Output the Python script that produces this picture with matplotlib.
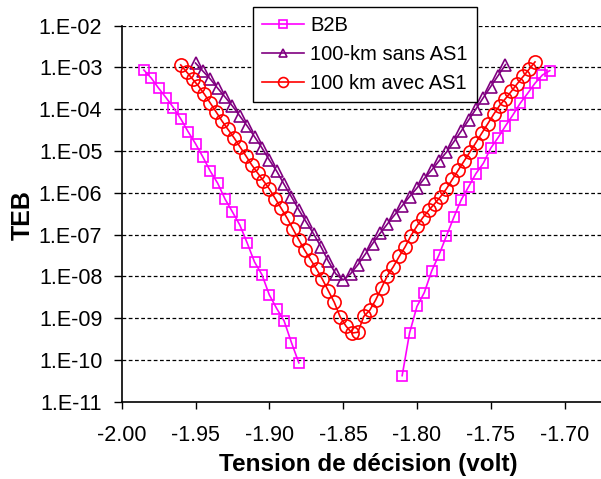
import matplotlib
matplotlib.use("Agg")
import matplotlib.pyplot as plt
import numpy as np

plt.rcParams["font.family"] = ["Liberation Sans", "DejaVu Sans"]

# B2B: two separate branches (no line across the gap)
b2b_left_v = [-1.985, -1.980, -1.975, -1.970, -1.965, -1.960, -1.955, -1.950,
              -1.945, -1.940, -1.935, -1.930, -1.925, -1.920, -1.915, -1.910,
              -1.905, -1.900, -1.895, -1.890, -1.885, -1.880]
b2b_left_teb = [8.7e-4, 5.6e-4, 3.2e-4, 1.9e-4, 1.1e-4, 5.9e-5, 2.9e-5, 1.5e-5,
                7.2e-6, 3.3e-6, 1.7e-6, 7.1e-7, 3.5e-7, 1.7e-7, 6.3e-8, 2.2e-8,
                1.1e-8, 3.6e-9, 1.7e-9, 8.6e-10, 2.6e-10, 8.5e-11]
b2b_right_v = [-1.810, -1.805, -1.800, -1.795, -1.790, -1.785, -1.780, -1.775,
               -1.770, -1.765, -1.760, -1.755, -1.750, -1.745, -1.740, -1.735,
               -1.730, -1.725, -1.720, -1.715, -1.710]
b2b_right_teb = [4.2e-11, 4.4e-10, 1.9e-9, 4.1e-9, 1.35e-8, 3.3e-8, 9.3e-8, 2.6e-7,
                 6.8e-7, 1.4e-6, 2.9e-6, 5.1e-6, 1.17e-5, 2.1e-5, 4.0e-5, 7.3e-5,
                 1.4e-4, 2.4e-4, 4.2e-4, 6.6e-4, 8.4e-4]

# 100-km sans AS1, -1.95 .. -1.74 by 5 mV
sans_v = [round(-1.95 + 0.005 * i, 3) for i in range(43)]
sans_teb = [1.28e-3, 8.2e-4, 5.3e-4, 3.2e-4, 1.97e-4, 1.2e-4, 6.9e-5, 4.0e-5,
            2.2e-5, 1.19e-5, 6.1e-6, 3.3e-6, 1.6e-6, 8.0e-7, 3.9e-7, 2.0e-7,
            1.04e-7, 5.1e-8, 2.3e-8, 1.15e-8, 8.2e-9,
            1.15e-8, 1.9e-8, 3.4e-8, 6.1e-8, 1.07e-7, 1.8e-7, 3.0e-7, 4.9e-7,
            8.1e-7, 1.3e-6, 2.2e-6, 3.5e-6, 5.8e-6, 9.4e-6, 1.66e-5, 3.0e-5,
            5.5e-5, 1.02e-4, 1.9e-4, 3.5e-4, 6.4e-4, 1.17e-3]

# 100 km avec AS1, -1.96 .. -1.72 by 4 mV
avec_v = [round(-1.96 + 0.004 * i, 3) for i in range(61)]
avec_teb = [1.15e-3, 7.8e-4, 5.3e-4, 3.6e-4, 2.3e-4, 1.41e-4, 8.6e-5, 5.2e-5,
            3.3e-5, 2.1e-5, 1.28e-5, 7.8e-6, 4.7e-6, 3.0e-6, 1.94e-6, 1.24e-6,
            7.3e-7, 4.3e-7, 2.5e-7, 1.37e-7, 7.5e-8, 4.2e-8, 2.5e-8, 1.49e-8,
            8.5e-9, 4.5e-9, 2.4e-9, 1.07e-9, 6.4e-10, 4.4e-10,
            4.6e-10, 1.1e-9, 1.54e-9, 2.7e-9, 5.3e-9, 1.04e-8, 1.7e-8, 3.0e-8,
            5.1e-8, 9.5e-8, 1.6e-7, 2.55e-7, 3.8e-7, 5.5e-7, 8.1e-7, 1.25e-6,
            2.1e-6, 3.5e-6, 5.8e-6, 9.6e-6, 1.6e-5, 2.7e-5, 4.5e-5, 7.6e-5,
            1.23e-4, 1.8e-4, 2.7e-4, 4.1e-4, 6.1e-4, 9.1e-4, 1.36e-3]

labels = ["B2B", "100-km sans AS1", "100 km avec AS1"]
x_ticks = [-2.00, -1.95, -1.90, -1.85, -1.80, -1.75, -1.70]
y_ticks = [1e-2, 1e-3, 1e-4, 1e-5, 1e-6, 1e-7, 1e-8, 1e-9, 1e-10, 1e-11]


def sci_label(value):
    return "1.E{:03d}".format(int(round(np.log10(value))))


fig = plt.figure(figsize=(6.01, 4.79), dpi=100)
ax = fig.add_axes([0.2025, 0.1614, 0.7975, 0.7849])

magenta = "#FF00FF"
purple = "#800080"
red = "#FF0000"

ax.plot(b2b_left_v, b2b_left_teb, color=magenta, lw=1.2, marker="s", ms=7.5,
        mfc="none", mec=magenta, mew=1.2, label=labels[0], zorder=3)
ax.plot(b2b_right_v, b2b_right_teb, color=magenta, lw=1.2, marker="s", ms=7.5,
        mfc="none", mec=magenta, mew=1.2, zorder=3)
ax.plot(sans_v, sans_teb, color=purple, lw=1.2, marker="^", ms=8.5,
        mfc="none", mec=purple, mew=1.2, label=labels[1], zorder=3)
ax.plot(avec_v, avec_teb, color=red, lw=1.2, marker="o", ms=9.5,
        mfc="none", mec=red, mew=1.2, label=labels[2], zorder=3)

ax.set_yscale("log")
ax.set_ylim(1e-11, 1e-2)
ax.set_xlim(-2.00, -1.6753)
ax.set_yticks(y_ticks)
ax.set_yticklabels([sci_label(v) for v in y_ticks])
ax.yaxis.set_minor_locator(matplotlib.ticker.NullLocator())
ax.set_xticks(x_ticks)
ax.set_xticklabels(["{:.2f}".format(v) for v in x_ticks])

ax.tick_params(axis="y", direction="out", length=6, width=1, pad=8, labelsize=15.5)
ax.tick_params(axis="x", direction="out", length=5, width=1, pad=12, labelsize=15.5)

for v in y_ticks[:-1]:
    ax.axhline(v, color="black", lw=0.9, ls=(0, (3, 2)), zorder=1)

for side in ["top", "right"]:
    ax.spines[side].set_visible(False)
for side in ["left", "bottom"]:
    ax.spines[side].set_linewidth(1.2)

fig.text(368 / 601, 1 - 464 / 479, "Tension de décision (volt)", fontsize=17.5,
         fontweight="bold", ha="center", va="center")
fig.text(22.5 / 601, 1 - 215 / 479, "TEB", fontsize=18, fontweight="bold",
         rotation=90, ha="center", va="center")

leg = ax.legend(loc="upper left", bbox_to_anchor=(253 / 601, 1 - 7 / 479),
                bbox_transform=fig.transFigure, fontsize=14.5, frameon=True,
                fancybox=False, framealpha=1, edgecolor="black",
                handlelength=2.1, markerscale=0.75, borderpad=0.45,
                labelspacing=0.5, handletextpad=0.3, borderaxespad=0)
leg.get_frame().set_linewidth(1.0)
leg.set_zorder(5)

fig.savefig("out.png", dpi=100)
